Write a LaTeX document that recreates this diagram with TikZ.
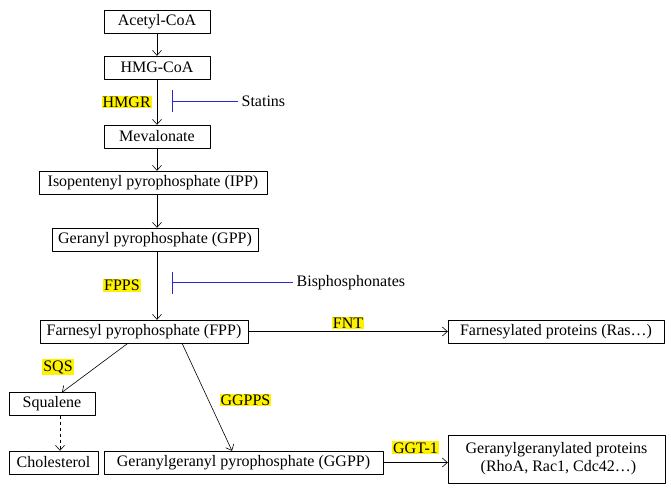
\documentclass[tikz,border=0pt]{standalone}
\usepackage{fontspec}
\setmainfont{Liberation Serif}
\usetikzlibrary{arrows.meta}
\definecolor{inhblue}{RGB}{40,40,215}
\begin{document}
\begin{tikzpicture}[x=1pt, y=-1pt, line join=round, >={Straight Barb[length=5pt,width=9pt]}, semithick]
	\tikzset{every node/.style={font=\fontsize{16}{18}\selectfont},
		box/.style={draw, thin, minimum width=#1, minimum height=23pt, inner sep=1pt},
		enz/.style={fill=yellow, inner sep=1pt},
		inhib/.style={draw=inhblue, line width=.8pt, -{Bar[width=22pt]}}}
	\useasboundingbox (0,0) rectangle (671,494);
	% pathway
	\node[box=106pt] (acoa) at (157,21.5) {Acetyl-CoA};
	\node[box=106pt] (hmg) at (157,67.5) {HMG-CoA};
	\node[box=106pt] (meva) at (157,136.5) {Mevalonate};
	\node[box=228pt] (ipp) at (153,182.5) {Isopentenyl pyrophosphate (IPP)};
	\node[box=206pt] (gpp) at (155,239.5) {Geranyl pyrophosphate (GPP)};
	\node[box=208pt] (fpp) at (144,331.5) {Farnesyl pyrophosphate (FPP)};
	\node[box=216pt] (fprot) at (556,331.5) {Farnesylated proteins (Ras\dots)};
	\node[box=86pt] (squa) at (52,404) {Squalene};
	\node[box=89pt] (chol) at (53.5,462.5) {Cholesterol};
	\node[box=279pt] (ggpp) at (243.5,462.5) {Geranylgeranyl pyrophosphate (GGPP)};
	\node[box=217pt, minimum height=48pt, align=center] (ggprot) at (556.5,459)
		{Geranylgeranylated proteins\\ \ (RhoA, Rac1, Cdc42\dots)};
	% arrows
	\draw[->] (acoa) -- (hmg);
	\draw[->] (hmg) -- (meva) node[midway, left=5pt, enz] (hmgr) {HMGR};
	\draw[->] (meva) -- (ipp.north -| meva);
	\draw[->] (ipp.south -| meva) -- (gpp.north -| meva);
	\draw[->] (gpp.south -| meva) -- (fpp.north -| meva) node[midway, left=16pt, enz] (fpps) {FPPS};
	\draw[->] (fpp) -- (fprot) node[midway, above=2pt, enz] (fnt) {FNT};
	\draw[->] (fpp.south -| 128,0) -- (squa.north -| 62,0);
	\node[enz] (sqs) at (58,367) {SQS};
	\draw[->] (fpp.south -| 182,0) -- (ggpp.north -| 232,0);
	\node[enz] (ggpps) at (245.5,400) {GGPPS};
	\draw[->, dashed] (squa.south -| 60,0) -- (chol.north -| 60,0);
	\draw[->] (ggpp) -- (ggprot.west |- ggpp) node[midway, above=8pt, enz] (ggt) {GGT-1};
	% inhibitors
	\node[anchor=west] (stat) at (238,101.5) {Statins};
	\draw[inhib] (stat.west) -- (171.5,101.5);
	\node[anchor=west] (bisp) at (293,282.5) {Bisphosphonates};
	\draw[inhib] (bisp.west) -- (171.5,282.5);
\end{tikzpicture}
\end{document}
